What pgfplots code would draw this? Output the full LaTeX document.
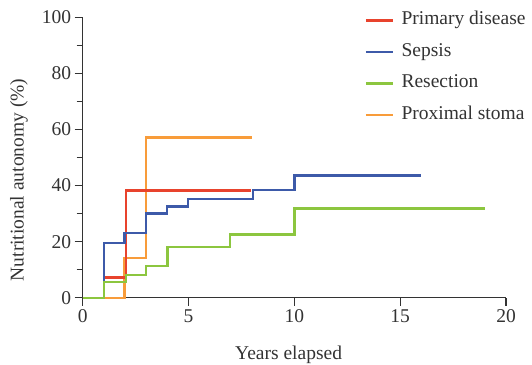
\documentclass[border=0pt]{standalone}
\usepackage{fontspec}
\setmainfont{Liberation Serif}
\usepackage{pgfplots}
\pgfplotsset{compat=1.18}
\definecolor{cRed}{HTML}{E8432D}
\definecolor{cBlue}{HTML}{3D5AA9}
\definecolor{cGreen}{HTML}{8CC63F}
\definecolor{cOrange}{HTML}{F89C3A}
\definecolor{axc}{HTML}{333333}
\begin{document}
\begin{tikzpicture}
\begin{axis}[
  scale only axis,
  width=423.3pt, height=280.3pt,
  xmin=0, xmax=20, ymin=0, ymax=100,
  axis x line*=bottom, axis y line*=left,
  axis line style={axc, line width=1.1pt},
  every tick/.style={axc, line width=1.1pt},
  tick align=outside,
  major tick length=8pt, minor tick length=6pt,
  xtick={0,5,10,15,20}, ytick={0,20,40,60,80,100},
  minor y tick num=1,
  font=\fontsize{19.5}{22}\selectfont,
  /pgf/number format/assume math mode=true,
  tick label style={font=\fontsize{19.5}{22}\selectfont, text=axc},
  xlabel={Years elapsed}, ylabel={Nutritional autonomy (\%)},
  label style={font=\fontsize{19.5}{22}\selectfont, text=axc},
  xlabel style={at={(axis description cs:0.4865,-0.204)}, anchor=center},
  ylabel style={at={(axis description cs:-0.1506,0.42)}, anchor=center, rotate=0},
  legend cell align=left,
  legend style={at={(axis description cs:0.666,1.02)}, anchor=north west, draw=none, fill=none,
    inner sep=0pt, row sep=14.5pt, font=\fontsize{19.5}{22}\selectfont,
    nodes={text height=13pt, text depth=4pt, inner sep=0pt, text=axc}},
  legend image code/.code={\draw[#1, line width=2.2pt] (0pt,0pt) -- (27.5pt,0pt);},
  clip=false,
]
\addlegendimage{cRed}
\addlegendentry{\hspace{7pt}Primary disease}
\addlegendimage{cBlue}
\addlegendentry{\hspace{7pt}Sepsis}
\addlegendimage{cGreen}
\addlegendentry{\hspace{7pt}Resection}
\addlegendimage{cOrange}
\addlegendentry{\hspace{7pt}Proximal stoma}
\addplot[cOrange, line width=2.3pt, sharp plot, line join=miter, forget plot] coordinates {(0,0) (1.98,0) (1.98,14.2) (3.0,14.2) (3.0,57.2) (8.0,57.2)};
\addplot[cRed, line width=2.3pt, sharp plot, line join=miter, forget plot] coordinates {(0,0) (1.0,0) (1.0,7.2) (2.03,7.2) (2.03,38.2) (7.95,38.2)};
\addplot[cBlue, line width=2.3pt, sharp plot, line join=miter, forget plot] coordinates {(0,0) (1.0,0) (1.0,19.5) (1.97,19.5) (1.97,23.1) (3.0,23.1) (3.0,30.0) (3.98,30.0) (3.98,32.5) (4.98,32.5) (4.98,35.2) (8.03,35.2) (8.03,38.3) (10.0,38.3) (10.0,43.6) (16.0,43.6)};
\addplot[cGreen, line width=2.3pt, sharp plot, line join=miter, forget plot] coordinates {(0,0) (1.0,0) (1.0,5.7) (2.03,5.7) (2.03,8.2) (3.0,8.2) (3.0,11.4) (4.0,11.4) (4.0,18.1) (6.97,18.1) (6.97,22.6) (10.0,22.6) (10.0,31.8) (19.0,31.8)};
\end{axis}
\pgfresetboundingbox
\path[use as bounding box] (-82.7pt,-67pt) rectangle (449.3pt,297.7pt);
\end{tikzpicture}
\end{document}
